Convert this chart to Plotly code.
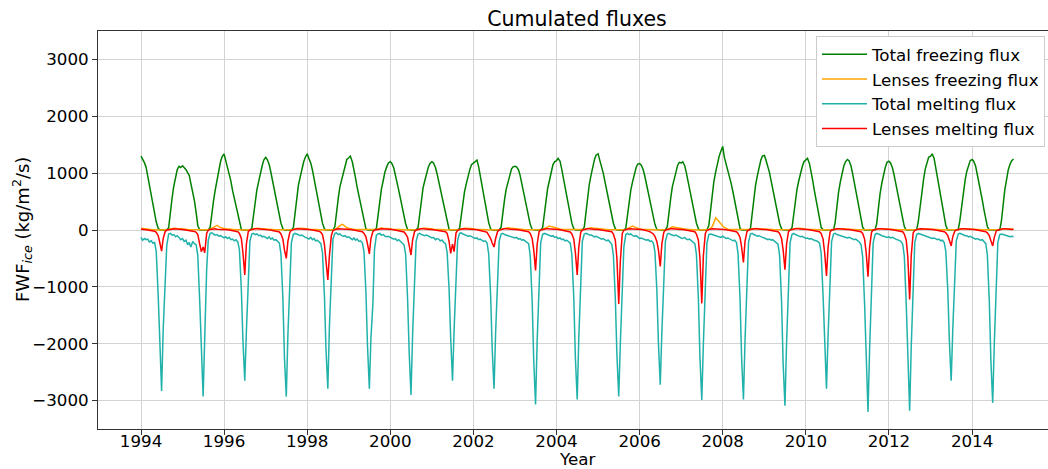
import pandas as pd
import plotly.graph_objects as go

# semi-monthly sampling, 1994-01-01 .. 2014-12-31
dates = list(pd.date_range("1994-01-01", "2014-12-16", freq="SMS")) + [pd.Timestamp("2014-12-31")]

year_ticks = [str(y) for y in range(1994, 2015, 2)]
y_ticks = [-3000, -2000, -1000, 0, 1000, 2000, 3000]
y_tick_text = ["\u22123000", "\u22122000", "\u22121000", "0", "1000", "2000", "3000"]

total_freezing = [
    1300, 1250, 1180, 1100, 940, 780, 610, 450, 290, 140, 30, 0, 0, 0, 0, 0, 40, 330, 560, 760, 930, 1060, 1120, 1100,
    1130, 1100, 1060, 1010, 960, 820, 680, 520, 300, 80, 0, 0, 0, 0, 0, 0, 50, 300, 520, 700, 880, 1050, 1200, 1290,
    1340, 1230, 1100, 980, 860, 700, 540, 400, 260, 110, 10, 0, 0, 0, 0, 0, 30, 270, 500, 700, 860, 1000, 1130, 1230,
    1280, 1240, 1150, 1020, 880, 720, 560, 410, 260, 120, 20, 0, 0, 0, 0, 0, 40, 300, 560, 780, 940, 1080, 1200, 1280,
    1340, 1260, 1180, 1060, 900, 740, 570, 420, 270, 120, 20, 0, 0, 0, 0, 0, 60, 330, 560, 760, 900, 1020, 1130, 1240,
    1270, 1300, 1200, 1080, 920, 760, 600, 440, 280, 130, 20, 0, 0, 0, 0, 0, 30, 280, 520, 720, 880, 1020, 1110, 1180,
    1200, 1170, 1090, 980, 850, 700, 540, 390, 250, 110, 10, 0, 0, 0, 0, 0, 40, 300, 540, 740, 880, 1000, 1110, 1170,
    1200, 1180, 1100, 990, 860, 710, 550, 400, 250, 110, 10, 0, 0, 0, 0, 0, 30, 260, 480, 680, 830, 960, 1070, 1150,
    1180, 1210, 1230, 1120, 960, 790, 620, 450, 290, 130, 20, 0, 0, 0, 0, 0, 50, 300, 530, 710, 860, 980, 1070, 1110,
    1120, 1110, 1060, 960, 830, 690, 540, 390, 240, 100, 10, 0, 0, 0, 0, 0, 40, 290, 530, 730, 880, 1020, 1150, 1200,
    1220, 1260, 1210, 1080, 920, 760, 590, 430, 270, 120, 20, 0, 0, 0, 0, 0, 50, 320, 580, 800, 980, 1140, 1250, 1320,
    1340, 1230, 1120, 1000, 860, 710, 560, 410, 260, 120, 20, 0, 0, 0, 0, 0, 30, 260, 500, 700, 860, 990, 1100, 1160,
    1170, 1140, 1060, 950, 820, 680, 530, 380, 240, 100, 10, 0, 0, 0, 0, 0, 60, 330, 560, 760, 920, 1050, 1140, 1190,
    1180, 1200, 1130, 1010, 870, 720, 560, 410, 260, 120, 20, 0, 0, 0, 0, 0, 80, 360, 620, 850, 1030, 1180, 1300, 1380,
    1470, 1280, 1150, 1060, 960, 820, 660, 500, 330, 160, 30, 0, 0, 0, 0, 0, 30, 290, 550, 780, 960, 1110, 1230, 1300,
    1310, 1230, 1130, 1010, 870, 720, 560, 410, 260, 120, 20, 0, 0, 0, 0, 0, 40, 280, 510, 720, 880, 1010, 1120, 1200,
    1240, 1260, 1170, 1040, 880, 710, 540, 370, 200, 50, 0, 0, 0, 0, 0, 0, 0, 130, 420, 660, 860, 1010, 1130, 1200,
    1240, 1220, 1130, 1000, 850, 690, 520, 360, 200, 50, 0, 0, 0, 0, 0, 0, 0, 110, 400, 640, 840, 990, 1110, 1190,
    1210, 1180, 1090, 970, 830, 680, 520, 360, 200, 60, 0, 0, 0, 0, 0, 0, 10, 150, 440, 690, 900, 1070, 1200, 1280,
    1300, 1340, 1260, 1100, 930, 760, 580, 410, 240, 80, 0, 0, 0, 0, 0, 0, 10, 160, 440, 680, 880, 1030, 1150, 1220,
    1240, 1210, 1120, 990, 840, 680, 520, 360, 200, 60, 0, 0, 0, 0, 0, 0, 0, 150, 450, 700, 900, 1060, 1160, 1220,
    1250,
]

lenses_freezing = [
    30, 25, 20, 15, 10, 10, 5, 5, 5, 0, 0, 0, 0, 0, 0, 5, 10, 20, 25, 30, 30, 25, 25, 20,
    20, 15, 15, 10, 10, 10, 5, 5, 5, 0, 0, 0, 0, 0, 0, 5, 15, 30, 50, 70, 80, 60, 45, 30,
    25, 20, 15, 10, 10, 10, 5, 5, 5, 0, 0, 0, 0, 0, 0, 5, 10, 20, 25, 30, 30, 25, 20, 20,
    20, 15, 15, 10, 10, 10, 5, 5, 5, 0, 0, 0, 0, 0, 0, 5, 10, 20, 30, 30, 30, 30, 25, 20,
    20, 15, 15, 10, 10, 10, 5, 5, 5, 0, 0, 0, 0, 0, 0, 5, 10, 30, 50, 80, 100, 90, 60, 40,
    30, 20, 15, 10, 10, 10, 5, 5, 5, 0, 0, 0, 0, 0, 0, 5, 10, 20, 30, 35, 30, 30, 25, 20,
    20, 15, 15, 10, 10, 10, 5, 5, 5, 0, 0, 0, 0, 0, 0, 5, 10, 20, 30, 30, 30, 30, 25, 20,
    20, 15, 15, 10, 10, 10, 5, 5, 5, 0, 0, 0, 0, 0, 0, 5, 10, 20, 30, 30, 30, 30, 25, 20,
    20, 15, 15, 10, 10, 10, 5, 5, 5, 0, 0, 0, 0, 0, 0, 5, 10, 20, 30, 40, 40, 35, 30, 25,
    20, 15, 15, 10, 10, 10, 5, 5, 5, 0, 0, 0, 0, 0, 0, 5, 10, 25, 40, 60, 70, 60, 50, 40,
    30, 20, 15, 10, 10, 10, 5, 5, 5, 0, 0, 0, 0, 0, 0, 5, 10, 20, 30, 40, 40, 35, 30, 25,
    20, 15, 15, 10, 10, 10, 5, 5, 5, 0, 0, 0, 0, 0, 0, 5, 10, 25, 40, 60, 70, 55, 40, 30,
    20, 15, 15, 10, 10, 10, 5, 5, 5, 0, 0, 0, 0, 0, 0, 5, 10, 25, 45, 55, 50, 45, 35, 25,
    20, 15, 15, 10, 10, 10, 5, 5, 5, 0, 0, 0, 0, 0, 0, 5, 10, 30, 60, 130, 215, 180, 140, 100,
    70, 45, 25, 15, 10, 10, 5, 5, 5, 0, 0, 0, 0, 0, 0, 5, 10, 20, 25, 25, 25, 20, 20, 20,
    20, 15, 15, 10, 10, 10, 5, 5, 5, 0, 0, 0, 0, 0, 0, 5, 10, 20, 30, 30, 30, 30, 25, 20,
    15, 15, 10, 10, 10, 5, 5, 5, 5, 0, 0, 0, 0, 0, 0, 5, 10, 15, 20, 20, 20, 20, 15, 15,
    15, 15, 10, 10, 10, 5, 5, 5, 5, 0, 0, 0, 0, 0, 0, 5, 10, 15, 20, 20, 20, 20, 15, 15,
    15, 15, 10, 10, 10, 5, 5, 5, 5, 0, 0, 0, 0, 0, 0, 5, 10, 15, 20, 20, 20, 20, 15, 15,
    15, 15, 10, 10, 10, 5, 5, 5, 5, 0, 0, 0, 0, 0, 0, 5, 10, 15, 20, 20, 20, 20, 15, 15,
    15, 15, 10, 10, 10, 5, 5, 5, 5, 0, 0, 0, 0, 0, 0, 5, 10, 15, 20, 20, 20, 20, 15, 15,
    15,
]

total_melting = [
    -130, -180, -150, -170, -160, -210, -190, -230, -220, -380, -1150, -2150, -2830, -1750, -900, -280, -70, -60, -90, -80, -120, -100, -130, -170,
    -150, -200, -180, -260, -220, -300, -200, -240, -260, -450, -1250, -2200, -2930, -1900, -700, -180, -60, -50, -70, -90, -80, -110, -100, -120,
    -140, -120, -150, -130, -170, -160, -190, -170, -210, -350, -1050, -1950, -2650, -1800, -750, -200, -70, -60, -80, -70, -100, -90, -120, -110,
    -130, -150, -120, -160, -140, -180, -170, -200, -230, -420, -1200, -2250, -2930, -1850, -800, -220, -80, -60, -70, -90, -100, -90, -120, -130,
    -140, -160, -130, -170, -150, -190, -180, -210, -240, -400, -1150, -2100, -2790, -1700, -650, -160, -60, -50, -80, -70, -100, -110, -100, -130,
    -120, -150, -170, -140, -180, -160, -200, -190, -230, -380, -1100, -2050, -2790, -1900, -1300, -350, -90, -70, -60, -90, -80, -110, -120, -110,
    -130, -140, -160, -150, -190, -170, -200, -220, -260, -430, -1200, -2150, -2900, -1850, -750, -200, -70, -60, -80, -90, -100, -90, -110, -130,
    -140, -130, -170, -150, -160, -190, -180, -220, -240, -400, -1050, -1900, -2650, -1750, -700, -180, -60, -50, -70, -80, -90, -110, -100, -120,
    -130, -150, -140, -170, -160, -180, -200, -190, -230, -420, -1150, -2100, -2790, -1800, -700, -200, -70, -60, -80, -90, -90, -110, -120, -120,
    -140, -130, -160, -150, -180, -170, -190, -210, -240, -450, -1250, -2300, -3070, -1950, -800, -220, -80, -60, -70, -80, -100, -110, -100, -130,
    -120, -150, -140, -170, -160, -190, -180, -200, -230, -430, -1200, -2250, -2980, -1900, -780, -200, -70, -60, -70, -90, -90, -110, -120, -110,
    -130, -140, -160, -150, -170, -190, -180, -210, -250, -440, -1200, -2200, -2930, -2000, -1100, -300, -80, -60, -80, -70, -100, -110, -100, -130,
    -150, -140, -160, -170, -180, -170, -200, -190, -230, -380, -1050, -2000, -2720, -1800, -750, -200, -70, -60, -80, -90, -100, -90, -110, -130,
    -140, -150, -130, -160, -170, -160, -190, -200, -240, -430, -1200, -2250, -2990, -2000, -850, -230, -80, -70, -80, -90, -100, -110, -120, -130,
    -110, -130, -150, -140, -160, -170, -190, -180, -220, -420, -1200, -2250, -2980, -1950, -800, -210, -70, -60, -80, -90, -110, -100, -120, -130,
    -140, -150, -170, -160, -180, -170, -200, -210, -250, -450, -1250, -2350, -3090, -2000, -820, -220, -80, -60, -80, -90, -100, -120, -110, -130,
    -150, -140, -160, -150, -170, -180, -190, -200, -230, -400, -1150, -2100, -2790, -1850, -750, -200, -70, -60, -80, -90, -100, -110, -120, -120,
    -140, -130, -150, -160, -170, -160, -190, -210, -260, -470, -1300, -2400, -3200, -2100, -850, -230, -80, -60, -70, -90, -100, -110, -120, -130,
    -120, -140, -130, -150, -160, -170, -180, -200, -250, -460, -1300, -2400, -3180, -2050, -850, -220, -80, -60, -70, -80, -90, -100, -110, -120,
    -130, -150, -140, -160, -170, -160, -190, -180, -220, -380, -1050, -1950, -2650, -1750, -700, -190, -70, -60, -70, -90, -100, -100, -120, -110,
    -130, -140, -160, -150, -170, -180, -170, -200, -240, -440, -1250, -2300, -3040, -2000, -800, -220, -80, -70, -80, -90, -100, -110, -120, -110,
    -120,
]

lenses_melting = [
    15, 15, 10, 5, 0, -5, -10, -15, -20, -40, -100, -220, -370, -150, -30, 0, 10, 15, 15, 20, 20, 15, 10, 10,
    10, 5, 0, 0, -10, -15, -20, -25, -40, -80, -250, -380, -300, -400, -60, -5, 10, 15, 20, 20, 15, 15, 10, 10,
    10, 10, 5, 0, -5, -10, -15, -20, -30, -60, -150, -400, -790, -250, -30, 0, 10, 15, 20, 20, 20, 15, 10, 10,
    10, 5, 5, 0, -10, -10, -20, -25, -35, -70, -160, -350, -500, -200, -40, -5, 10, 15, 20, 20, 15, 15, 10, 10,
    10, 10, 5, 0, -5, -10, -15, -20, -40, -80, -250, -550, -880, -450, -100, -10, 10, 15, 20, 20, 20, 15, 10, 10,
    10, 10, 5, 0, -5, -10, -15, -20, -30, -60, -120, -250, -420, -150, -30, 0, 10, 15, 15, 20, 20, 15, 10, 10,
    10, 10, 5, 0, -5, -10, -15, -25, -35, -70, -130, -270, -440, -180, -30, 0, 10, 15, 20, 20, 15, 15, 10, 10,
    10, 5, 5, 0, -5, -10, -15, -20, -30, -60, -200, -410, -250, -380, -50, -5, 10, 15, 20, 20, 20, 15, 10, 10,
    10, 10, 5, 0, -5, -10, -20, -30, -40, -80, -150, -230, -300, -150, -30, 0, 10, 15, 20, 20, 15, 15, 10, 10,
    10, 10, 5, 0, -5, -10, -15, -20, -30, -60, -150, -350, -710, -250, -30, 0, 10, 15, 20, 20, 20, 15, 10, 10,
    10, 10, 5, 0, -5, -10, -15, -25, -35, -70, -160, -400, -790, -300, -40, 0, 10, 15, 20, 20, 15, 15, 10, 10,
    10, 5, 5, 0, -5, -10, -15, -20, -30, -70, -180, -500, -1300, -550, -60, -5, 10, 15, 20, 20, 20, 15, 10, 10,
    10, 10, 5, 0, -10, -20, -30, -50, -70, -110, -200, -350, -640, -250, -40, 0, 10, 15, 20, 20, 15, 15, 10, 10,
    10, 10, 5, 0, -5, -10, -15, -20, -30, -70, -180, -500, -1290, -450, -60, -5, 10, 15, 20, 20, 20, 15, 10, 10,
    10, 10, 5, 0, -5, -10, -15, -20, -30, -60, -130, -300, -570, -200, -30, 0, 10, 15, 20, 20, 15, 15, 10, 10,
    10, 10, 5, 0, -5, -10, -15, -20, -30, -60, -150, -350, -700, -250, -30, 0, 10, 15, 20, 20, 20, 15, 10, 10,
    10, 10, 5, 0, -5, -10, -15, -20, -30, -60, -160, -400, -810, -300, -40, 0, 10, 15, 20, 20, 15, 15, 10, 10,
    10, 10, 5, 0, -5, -10, -15, -20, -30, -60, -160, -400, -820, -300, -40, 0, 10, 15, 20, 20, 20, 15, 10, 10,
    10, 10, 5, 0, -5, -10, -15, -20, -30, -70, -180, -480, -1220, -450, -50, -5, 10, 15, 20, 20, 15, 15, 10, 10,
    10, 10, 5, 0, -5, -10, -15, -20, -30, -50, -100, -180, -280, -120, -20, 0, 10, 15, 20, 20, 20, 15, 10, 10,
    10, 10, 5, 0, -5, -10, -15, -20, -30, -50, -100, -190, -280, -130, -20, 0, 10, 15, 20, 20, 15, 15, 10, 10,
    15,
]

series = [
    ("Total freezing flux", total_freezing, "#008000"),
    ("Lenses freezing flux", lenses_freezing, "#FFA500"),
    ("Total melting flux", total_melting, "#20B2AA"),
    ("Lenses melting flux", lenses_melting, "#FF0000"),
]

FONT = "DejaVu Sans"
FS = 16.7
fig = go.Figure()
for name, vals, col in series:
    assert len(vals) == len(dates), (name, len(vals), len(dates))
    fig.add_trace(go.Scatter(x=dates, y=vals, mode="lines", name=name,
                             line=dict(color=col, width=1.5)))

W, H = 1048, 469
L, R, T, B = 98, 0, 31, 40
pw, ph = W - L - R, H - T - B

fig.update_layout(
    width=W, height=H,
    margin=dict(l=L, r=R, t=T, b=B, pad=0),
    paper_bgcolor="white", plot_bgcolor="white",
    font=dict(family=FONT, size=FS, color="black"),
    title=dict(text="Cumulated fluxes", font=dict(size=20.5, family=FONT, color="black"),
               x=577 / W, xref="container", xanchor="center",
               y=1 - 19 / H, yref="container", yanchor="middle"),
    showlegend=True,
    legend=dict(x=(816 - L) / pw, xanchor="left", y=1 - 5 / ph, yanchor="top",
                bgcolor="white", bordercolor="#cccccc", borderwidth=1,
                itemwidth=45,
                font=dict(size=FS, family=FONT, color="black"),
                tracegroupgap=0),
    xaxis=dict(type="date", range=["1992-12-19", "2015-10-30"],
               tickvals=[f"{y}-01-01" for y in year_ticks], ticktext=year_ticks,
               showgrid=True, gridcolor="#d3d3d3", gridwidth=1,
               showline=True, linecolor="#333333", linewidth=1, mirror=True,
               ticks="outside", ticklen=5, tickcolor="#333333",
               ticklabelstandoff=-8,
               tickfont=dict(size=FS, family=FONT, color="black"),
               zeroline=False),
    yaxis=dict(range=[-3500, 3500], tickvals=y_ticks, ticktext=y_tick_text,
               showgrid=True, gridcolor="#d3d3d3", gridwidth=1,
               showline=True, linecolor="#333333", linewidth=1,
               ticks="outside", ticklen=5, tickcolor="#333333",
               tickfont=dict(size=FS, family=FONT, color="black"),
               zeroline=False),
    annotations=[
        dict(text="Year", xref="paper", yref="paper", x=(577 - L) / pw, y=-(459 - (H - B)) / ph,
             xanchor="center", yanchor="middle", showarrow=False,
             font=dict(size=FS, family=FONT, color="black")),
        dict(text="FWF<sub><i>ice</i></sub> (kg/m<sup>2</sup>/s)", xref="paper", yref="paper",
             x=(22 - L) / pw, y=0.5, xanchor="center", yanchor="middle", textangle=-90,
             showarrow=False, font=dict(size=18, family=FONT, color="black")),
    ],
)

fig.write_html("out.html")
